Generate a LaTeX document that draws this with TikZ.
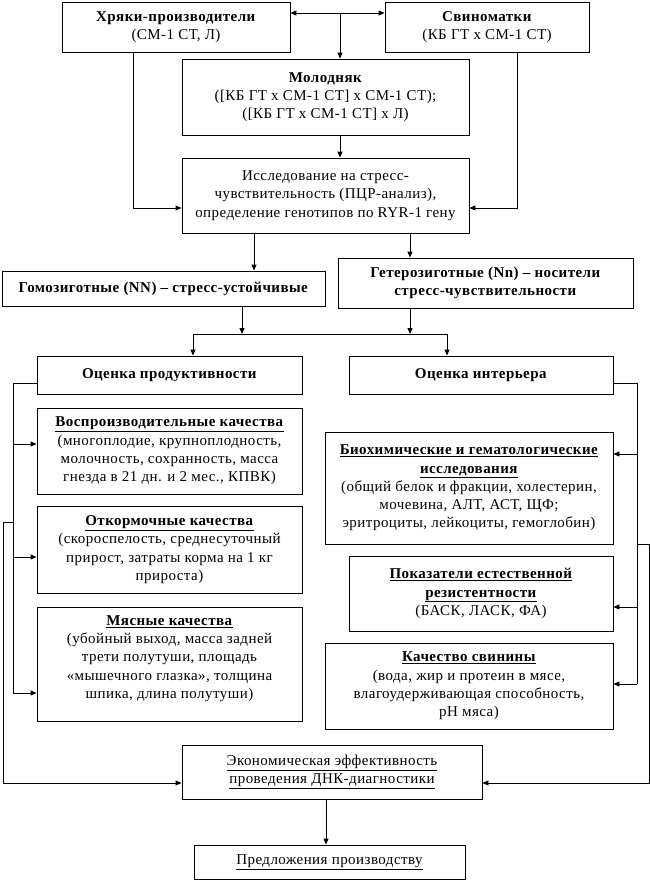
\documentclass[tikz,border=0pt]{standalone}
\usepackage{fontspec}
\setmainfont[LetterSpace=3]{Liberation Serif}
\usetikzlibrary{arrows.meta}
\tikzset{
  box/.style={draw, line width=0.9pt, inner sep=1pt, align=center,
    font=\fontsize{15}{18.3}\selectfont},
  conn/.style={line width=0.9pt},
  arr/.style={line width=0.9pt, -{Triangle[length=6pt,width=5pt]}},
  darr/.style={line width=0.9pt, {Triangle[length=6pt,width=5pt]}-{Triangle[length=6pt,width=5pt]}}
}
\newcommand{\hd}[1]{\underline{\textbf{#1}}}
\begin{document}
\begin{tikzpicture}[x=1pt,y=-1pt]
\useasboundingbox (0,0) rectangle (650,881);
\node[box, minimum width=228pt, minimum height=50pt] (A) at (176,27) {\textbf{Хряки-производители}\\(СМ-1 СТ, Л)};
\node[box, minimum width=204pt, minimum height=50pt] (B) at (487,27) {\textbf{Свиноматки}\\(КБ ГТ х СМ-1 СТ)};
\node[box, minimum width=287pt, minimum height=76pt] (C) at (325.5,97) {\textbf{Молодняк}\\([КБ ГТ х СМ-1 СТ] х СМ-1 СТ);\\([КБ ГТ х СМ-1 СТ] х Л)};
\node[box, minimum width=287pt, minimum height=75pt] (D) at (325.5,195.5) {Исследование на стресс-\\чувствительность (ПЦР-анализ),\\определение генотипов по RYR-1 гену};
\node[box, minimum width=323pt, minimum height=35pt] (E) at (163.5,288.5) {\textbf{Гомозиготные (NN) – стресс-устойчивые}};
\node[box, minimum width=295pt, minimum height=50pt] (F) at (485.5,283) {\textbf{Гетерозиготные (Nn) – носители}\\\textbf{стресс-чувствительности}};
\node[box, minimum width=265pt, minimum height=38pt] (G) at (169.5,375) {\textbf{Оценка продуктивности}};
\node[box, minimum width=264pt, minimum height=38pt] (H) at (481,375) {\textbf{Оценка интерьера}};
\node[box, minimum width=265pt, minimum height=86pt] (M) at (169.5,451) {\hd{Воспроизводительные качества}\\(многоплодие, крупноплодность,\\молочность, сохранность, масса\\гнезда в 21 дн. и 2 мес., КПВК)};
\node[box, minimum width=265pt, minimum height=87pt] (N) at (169.5,549.5) {\hd{Откормочные качества}\\(скороспелость, среднесуточный\\прирост, затраты корма на 1 кг\\прироста)};
\node[box, minimum width=265pt, minimum height=114pt] (O) at (169.5,664) {\hd{Мясные качества}\\(убойный выход, масса задней\\трети полутуши, площадь\\«мышечного глазка», толщина\\шпика, длина полутуши)\\[-4pt]};
\node[box, minimum width=288pt, minimum height=112pt] (I) at (469,488) {\hd{Биохимические и гематологические}\\\hd{исследования}\\(общий белок и фракции, холестерин,\\мочевина, АЛТ, АСТ, ЩФ;\\эритроциты, лейкоциты, гемоглобин)};
\node[box, minimum width=264pt, minimum height=75pt] (J) at (481,593.5) {\hd{Показатели естественной}\\\hd{резистентности}\\(БАСК, ЛАСК, ФА)};
\node[box, minimum width=288pt, minimum height=86pt] (K) at (469,686) {\hd{Качество свинины}\\(вода, жир и протеин в мясе,\\влагоудерживающая способность,\\рН мяса)};
\node[box, minimum width=300pt, minimum height=54pt] (L) at (332,772) {\underline{Экономическая эффективность}\\\underline{проведения ДНК-диагностики}};
\node[box, minimum width=271pt, minimum height=34pt] (P) at (329.5,862) {\underline{Предложения производству}};
% top connectors
\draw[darr] (A.east |- 0,13) -- (B.west |- 0,13);
\coordinate (t1) at (340,13);
\draw[arr] (t1) -- (t1 |- C.north);
\draw[arr] (C.south -| t1) -- (D.north -| t1);
\coordinate (a1) at (133,208);
\coordinate (b1) at (517,208);
\draw[arr] (A.south -| a1) -- (a1) -- (D.west |- a1);
\draw[arr] (B.south -| b1) -- (b1) -- (D.east |- b1);
% genotype split
\coordinate (d1) at (254,0);
\coordinate (d2) at (410,0);
\draw[arr] (D.south -| d1) -- (E.north -| d1);
\draw[arr] (D.south -| d2) -- (F.north -| d2);
\coordinate (j1) at (242,334);
\coordinate (j2) at (410,334);
\coordinate (jl) at (193,334);
\coordinate (jr) at (447,334);
\draw[arr] (E.south -| j1) -- (j1);
\draw[arr] (F.south -| j2) -- (j2);
\draw[conn] (jl) -- (jr);
\draw[arr] (jl) -- (G.north -| jl);
\draw[arr] (jr) -- (H.north -| jr);
% left bus
\coordinate (lg) at (13,383);
\coordinate (lm) at (13,444);
\coordinate (ln) at (13,557);
\coordinate (lo) at (13,693);
\draw[conn] (G.west |- lg) -- (lg) -- (lo);
\draw[arr] (lm) -- (M.west |- lm);
\draw[arr] (ln) -- (N.west |- ln);
\draw[arr] (lo) -- (O.west |- lo);
\coordinate (ls) at (13,522);
\coordinate (ls2) at (3,522);
\coordinate (ls3) at (3,783);
\draw[arr] (ls) -- (ls2) -- (ls3) -- (L.west |- ls3);
% right bus
\coordinate (rh) at (637,383);
\coordinate (ri) at (637,454);
\coordinate (rj) at (637,607);
\coordinate (rk) at (637,684);
\draw[conn] (H.east |- rh) -- (rh) -- (rk);
\draw[arr] (ri) -- (I.east |- ri);
\draw[arr] (rj) -- (J.east |- rj);
\draw[arr] (rk) -- (K.east |- rk);
\coordinate (rs) at (637,544);
\coordinate (rs2) at (649,544);
\coordinate (rs3) at (649,783);
\draw[arr] (rs) -- (rs2) -- (rs3) -- (L.east |- rs3);
% final
\coordinate (f1) at (326,0);
\draw[arr] (L.south -| f1) -- (P.north -| f1);
\end{tikzpicture}
\end{document}
